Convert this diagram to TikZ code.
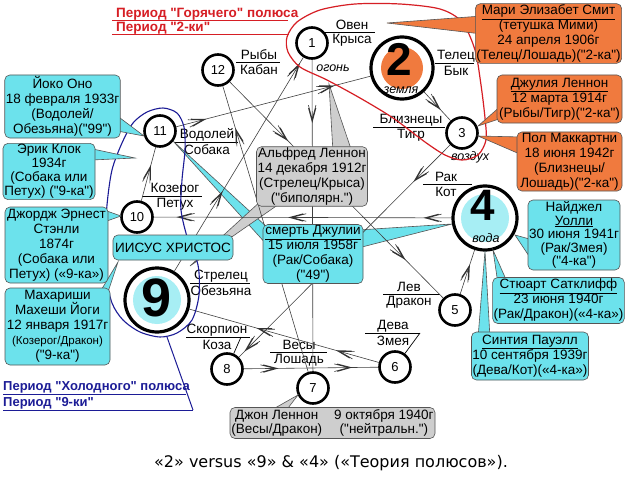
\documentclass[tikz,border=0pt]{standalone}
\usepackage{fontspec}
\setmainfont{Liberation Sans}[Ligatures=TeXOff]
\newfontfamily\capfont{DejaVu Sans}
\usetikzlibrary{arrows.meta, decorations.markings}

\definecolor{PoleRed}{RGB}{214,30,36}
\definecolor{PoleBlue}{RGB}{28,28,150}
\definecolor{CalloutCyan}{RGB}{108,226,236}
\definecolor{CalloutOrange}{RGB}{240,122,62}
\definecolor{CalloutGray}{RGB}{206,206,206}
\definecolor{FrameGray}{RGB}{85,85,85}

\tikzset{
  sign/.style={circle, draw, line width=2.6pt, fill=white, minimum size=31pt, inner sep=0pt,
    font=\fontsize{13}{13}\selectfont},
  pole/.style={circle, draw, line width=3.2pt, fill=white, minimum size=#1, inner sep=0pt},
  digit/.style={font=\bfseries\fontsize{#1}{#1}\selectfont, inner sep=0pt},
  element/.style={font=\itshape\fontsize{12.5}{12.5}\selectfont, inner sep=0pt},
  zodiac/.style={inner sep=0pt},
  rule/.style={line width=0.7pt},
  link/.style={draw=black!75, line width=0.6pt},
  barb/.style={draw=black!80, line width=0.6pt},
  tip/.style={postaction={decorate, decoration={markings,
      mark=at position #1 with {\draw[barb] (-14pt,3.8pt) -- (0pt,0pt) -- (-14pt,-3.8pt)
        (-17pt,3.8pt) -- (-3pt,0pt) -- (-17pt,-3.8pt);}}}},
  callout/.style={draw=FrameGray, line width=0.6pt, rounded corners=5pt, align=center, inner sep=1pt},
  pointer/.style={draw=FrameGray, line width=0.6pt},
  period/.style={anchor=west, inner sep=0pt, font=\bfseries\fontsize{13.5}{13.5}\selectfont},
}

\begin{document}
\begin{tikzpicture}[x=1pt, y=-1pt, font=\fontsize{13.5}{15}\selectfont]
  \fill[white] (0,0) rectangle (627,487);
  \useasboundingbox (0,0) rectangle (627,487);

  % signs of the circle
  \node[sign] (n1) at (312,43) {1};
  \node[pole=62pt] (n2) at (402,68) {};
  \node[sign] (n3) at (462,133) {3};
  \node[pole=64pt] (n4) at (485,218) {};
  \node[sign] (n5) at (455,310) {5};
  \node[sign] (n6) at (395,367) {6};
  \node[sign] (n7) at (313,388) {7};
  \node[sign] (n8) at (227,369) {8};
  \node[pole=64pt] (n9) at (157,300) {};
  \node[sign] (n10) at (137,217) {10};
  \node[sign] (n11) at (160,131) {11};
  \node[sign] (n12) at (218,70) {12};

  \fill[CalloutOrange] (n2.center) circle (21);
  \fill[CalloutCyan!60] (n4.center) circle (24);
  \fill[CalloutCyan!60] (n9.center) circle (24);
  \node[digit=46] (d2) at (399,59) {2};
  \node[digit=44] (d4) at (483,205) {4};
  \node[digit=54] (d9) at (157,298) {9};
  \node[element] (e1) at (333,68) {огонь};
  \node[element] (e2) at (401,90) {земля};
  \node[element] (e3) at (470,157) {воздух};
  \node[element] (e4) at (486,238) {вода};

  % zodiac labels
  \foreach \i/\lx/\ly/\l/\r/\up/\dn in {
      1/352/32/322/375/Овен/Крыса, 2/456/63/435/474/Телец/Бык,
      3/411/127/373/445/Близнецы/Тигр, 4/446/184/423/472/Рак/Кот,
      5/409/294/383/440/Лев/Дракон, 6/393/333/365/420/Дева/Змея,
      7/299/352/270/327/Весы/Лошадь, 8/217/337/186/250/Скорпион/Коза,
      9/221/283/190/250/Стрелец/Обезьяна, 10/175/196/142/202/Козерог/Петух,
      11/207/142/175/238/Водолей/Собака, 12/259/62/236/280/Рыбы/Кабан}{
    \draw[rule] (\l,\ly) -- (\r,\ly);
    \node[zodiac] (up\i) at (\lx,\ly-7) {\up};
    \node[zodiac] (dn\i) at (\lx,\ly+8) {\dn};
  }
  \coordinate (r6) at (420,333);
  \coordinate (r8) at (241,337);
  \draw[rule] (r6) -- (n6);
  \draw[rule] (r8) -- (n8);

  % pointers under the lines
  \filldraw[pointer, fill=CalloutCyan] (268,228) -- (173,141) -- (268,246) -- cycle;
  \filldraw[pointer, fill=CalloutCyan] (358,230) -- (452,224) -- (358,248) -- cycle;
  \filldraw[pointer, fill=CalloutGray] (333,152) -- (329,84) -- (352,152) -- cycle;
  \filldraw[pointer, fill=CalloutGray] (262,200) -- (190,266) -- (282,202) -- cycle;

  % the cycle of transitions
  \draw[link, tip=0.2] (n1) -- (n7);
  \draw[link, tip=0.85] (n7) -- (n12);
  \draw[link, tip=0.27, tip=0.82] (n12) -- (n5);
  \draw[link, tip=0.65] (n5) -- (n4);
  \draw[link, tip=0.09, tip=0.545, tip=0.92] (n4) -- (n10);
  \draw[link, tip=0.65] (n10) -- (n11);
  \draw[link, tip=0.15, tip=0.81] (n11) -- (n2);
  \draw[link, tip=0.6] (n2) -- (n3);
  \draw[link, tip=0.17, tip=0.97] (n3) -- (n8);
  \draw[link, tip=0.25, tip=0.8] (n8) -- (n6);
  \draw[link, tip=0.22, tip=0.64] (n6) -- (n9);
  \draw[link, tip=0.37, tip=0.97] (n9) -- (n1);

  % hot pole
  \draw[PoleRed, line width=1.2pt] plot[smooth cycle] coordinates {
    (287,37) (297,22) (320,10) (355,4) (400,4) (440,9) (462,22) (475,50)
    (481,85) (485,118) (486,140) (478,155) (462,160) (445,155) (425,142)
    (393,118) (360,98) (327,80) (300,67) (288,52)};
  \node[period, text=PoleRed] (hot1) at (116,14) {Период "Горячего" полюса};
  \node[period, text=PoleRed] (hot2) at (116,28) {Период "2-ки"};
  \draw[PoleRed, line width=1pt] (112,21) -- (288,21);
  \draw[PoleRed, line width=1pt] (112,35) -- (289,35);

  % cold pole
  \draw[PoleBlue, line width=1.1pt] plot[smooth cycle] coordinates {
    (163,108) (177,113) (184,127) (185,150) (182,180) (181,210) (188,240)
    (198,265) (199,295) (192,320) (177,333) (160,337) (140,332) (123,320)
    (112,303) (106,275) (105,245) (107,205) (112,170) (122,143) (133,123) (147,112)};
  \coordinate (cold) at (167,337);
  \draw[PoleBlue, line width=1pt] (cold) -- (193,410);
  \node[period, text=PoleBlue, font=\bfseries\fontsize{13}{13}\selectfont] (cold1) at (3,387) {Период "Холодного" полюса};
  \node[period, text=PoleBlue, font=\bfseries\fontsize{13}{13}\selectfont] (cold2) at (3,403) {Период "9-ки"};
  \draw[PoleBlue, line width=1pt] (3,394) -- (186,394);
  \draw[PoleBlue, line width=1pt] (3,410) -- (193,410);

  % pointers of the callouts
  \filldraw[pointer, fill=CalloutCyan] (112,112) -- (144,136) -- (112,130) -- cycle;
  \filldraw[pointer, fill=CalloutCyan] (88,148) -- (135,158) -- (92,160) -- cycle;
  \filldraw[pointer, fill=CalloutCyan] (104,210) -- (121,216) -- (104,222) -- cycle;
  \filldraw[pointer, fill=CalloutCyan] (100,292) -- (118,262) -- (108,292) -- cycle;
  \filldraw[pointer, fill=CalloutOrange] (482,16) -- (387,23) -- (482,34) -- cycle;
  \filldraw[pointer, fill=CalloutOrange] (502,105) -- (478,126) -- (502,118) -- cycle;
  \filldraw[pointer, fill=CalloutOrange] (522,137) -- (478,136) -- (522,155) -- cycle;
  \filldraw[pointer, fill=CalloutCyan] (533,240) -- (515,235) -- (533,262) -- cycle;
  \filldraw[pointer, fill=CalloutCyan] (478,338) -- (485,251) -- (490,338) -- cycle;
  \filldraw[pointer, fill=CalloutCyan] (498,284) -- (493,250) -- (508,284) -- cycle;
  \filldraw[pointer, fill=CalloutGray] (268,412) -- (298,395) -- (285,412) -- cycle;

  % callouts
  \node[callout, fill=CalloutCyan, minimum width=109pt, minimum height=63pt] (yoko) at (62.5,106.5)
    {Йоко Оно\\18 февраля 1933г\\(Водолей/\\Обезьяна)("99")};
  \node[callout, fill=CalloutCyan, minimum width=92pt, minimum height=53pt,
        font=\fontsize{13.5}{14}\selectfont] (eric) at (49,171.5)
    {Эрик Клок\\1934г\\(Собака или\\Петух) ("9-ка")};
  \node[callout, fill=CalloutCyan, minimum width=103pt, minimum height=76pt] (george) at (56.5,245)
    {Джордж Эрнест\\Стэнли\\1874г\\(Собака или\\Петух) («9-ка»)};
  \node[callout, fill=CalloutCyan, minimum width=105pt, minimum height=77pt] (maharishi) at (57.5,326.5)
    {Махариши\\Махеши Йоги\\12 января 1917г\\{\fontsize{11.5}{15}\selectfont(Козерог/Дракон)}\\("9-ка")};
  \node[callout, fill=CalloutCyan, minimum width=120pt, minimum height=25pt] (jesus) at (173,247.5)
    {ИИСУС ХРИСТОС};
  \node[callout, fill=CalloutGray, minimum width=110pt, minimum height=58pt] (alfred) at (312,176.5)
    {Альфред Леннон\\14 декабря 1912г\\(Стрелец/Крыса)\\("биполярн.")};
  \node[callout, fill=CalloutCyan, minimum width=100pt, minimum height=59pt] (death) at (313,254)
    {\underline{смерть Джулии}\\15 июля 1958г\\(Рак/Собака)\\("49")};
  \node[callout, fill=CalloutOrange, minimum width=145pt, minimum height=58pt] (mimi) at (548.5,33.5)
    {\underline{Мари Элизабет Смит}\\(тетушка Мими)\\24 апреля 1906г\\(Телец/Лошадь)("2-ка")};
  \node[callout, fill=CalloutOrange, minimum width=125pt, minimum height=48pt] (julia) at (559.5,99)
    {\underline{Джулия Леннон}\\12 марта 1914г\\(Рыбы/Тигр)("2-ка")};
  \node[callout, fill=CalloutOrange, minimum width=105pt, minimum height=58pt] (paul) at (569.5,161.5)
    {Пол Маккартни\\18 июня 1942г\\(Близнецы/\\Лошадь)("2-ка")};
  \node[callout, fill=CalloutCyan, minimum width=92pt, minimum height=70pt,
        font=\fontsize{13.5}{13.5}\selectfont] (nigel) at (574,235)
    {Найджел\\\underline{Уолли}\\30 июня 1941г\\(Рак/Змея)\\("4-ка")};
  \node[callout, fill=CalloutCyan, minimum width=127pt, minimum height=46pt] (stuart) at (558.5,300.5)
    {\underline{Стюарт Сатклифф}\\23 июня 1940г\\(Рак/Дракон)(«4-ка»)};
  \node[callout, fill=CalloutCyan, minimum width=116pt, minimum height=48pt] (cynthia) at (530,356)
    {\underline{Синтия Пауэлл}\\10 сентября 1939г\\(Дева/Кот)(«4-ка»)};
  \node[callout, fill=CalloutGray, minimum width=205pt, minimum height=30pt] (john) at (332.5,423)
    {\begin{tabular}{@{}c@{\hspace{12pt}}c@{}}Джон Леннон & 9 октября 1940г\\[-1pt]
      (Весы/Дракон) & ("нейтральн.")\end{tabular}};

  \node[font=\capfont\fontsize{16}{16}\selectfont] (caption) at (331,463)
    {«2» versus «9» \& «4» («Теория полюсов»).};
\end{tikzpicture}
\end{document}
